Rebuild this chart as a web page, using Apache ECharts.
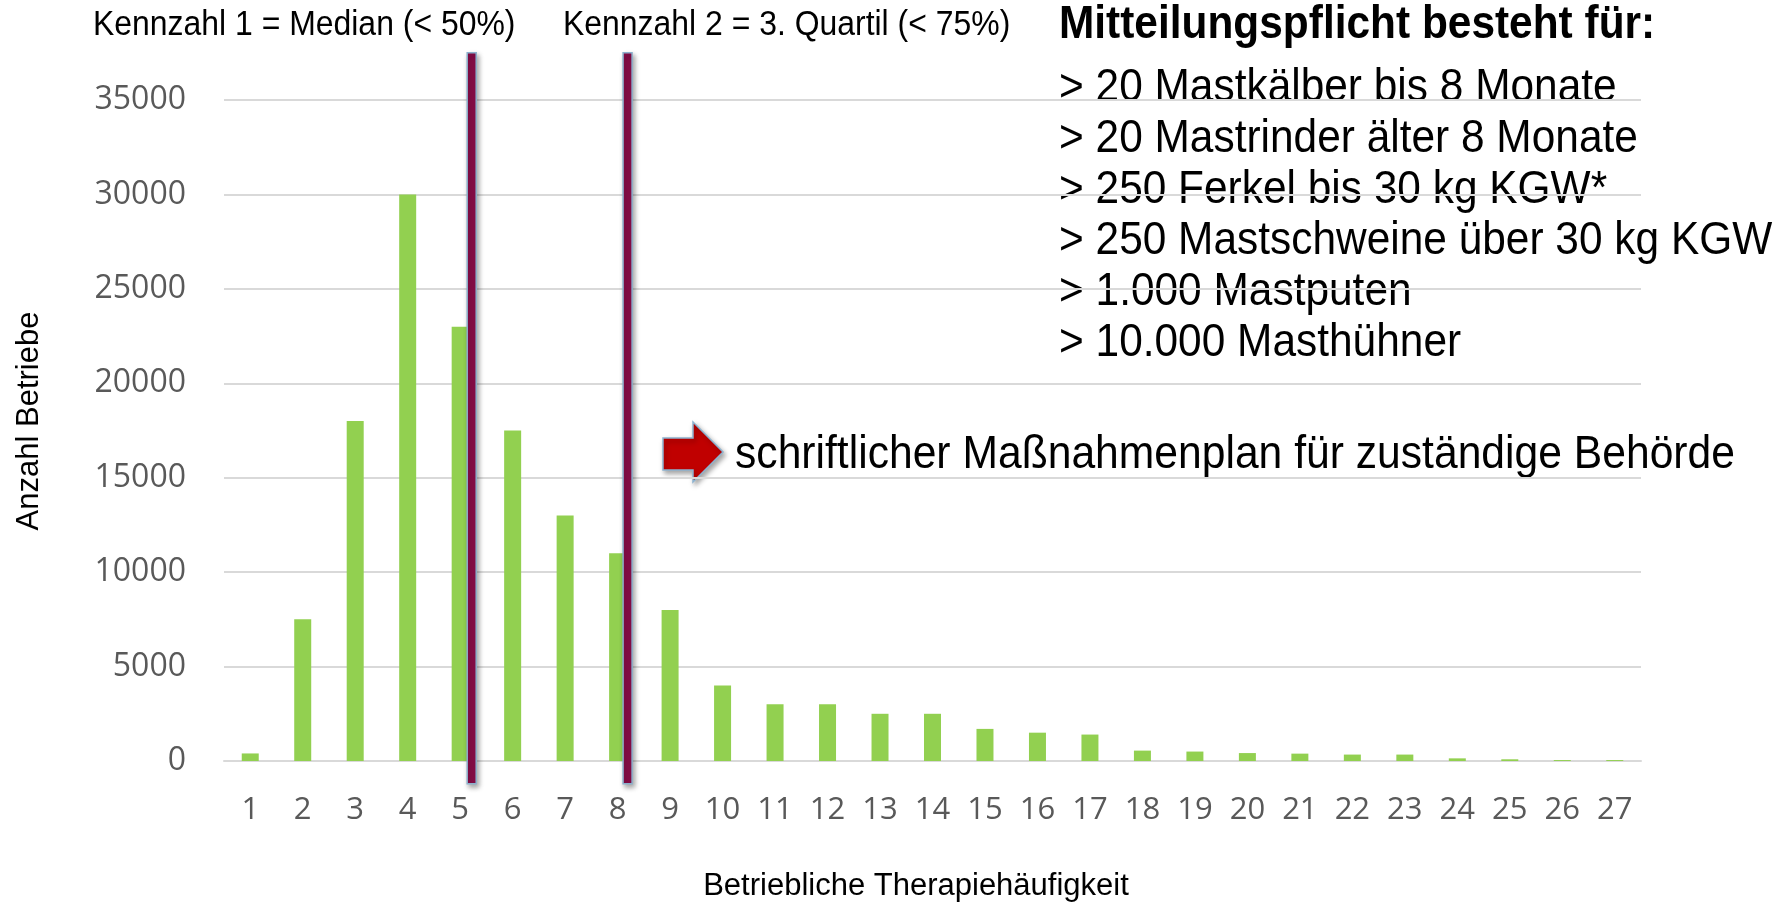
<!DOCTYPE html>
<html>
<head>
<meta charset="utf-8">
<script src="https://cdn.jsdelivr.net/npm/echarts@6/dist/echarts.min.js"></script>
<style>
  html, body { margin: 0; padding: 0; background: #fff; }
  #chart { width: 1783px; height: 903px; }
</style>
</head>
<body>
<div id="chart"></div>
<script>
// Therapiehäufigkeit 1..27
const categories = ['1', '2', '3', '4', '5', '6', '7', '8', '9', '10', '11', '12', '13', '14',
  '15', '16', '17', '18', '19', '20', '21', '22', '23', '24', '25', '26', '27'];
const betriebe = [400, 7500, 18000, 30000, 23000, 17500, 13000, 11000, 8000, 4000, 3000, 3000,
  2500, 2500, 1700, 1500, 1400, 550, 500, 420, 390, 340, 340, 140, 90, 50, 50];
const yTicks = [0, 5000, 10000, 15000, 20000, 25000, 30000, 35000];

// Kennzahl-Linien (Position auf der Kategorieachse) und ihre senkrechte Ausdehnung
const kennzahlPos = [5.22, 8.19];
const kennzahlSpan = [-1200, 37500];

const kennzahlLabels = ['Kennzahl 1 = Median (< 50%)', 'Kennzahl 2 = 3. Quartil (< 75%)'];
const pflichtTitle = 'Mitteilungspflicht besteht für:';
const pflichtList = [
  '> 20 Mastkälber bis 8 Monate',
  '> 20 Mastrinder älter 8 Monate',
  '> 250 Ferkel bis 30 kg KGW*',
  '> 250 Mastschweine über 30 kg KGW',
  '> 1.000 Mastputen',
  '> 10.000 Masthühner'
];
const planText = 'schriftlicher Maßnahmenplan für zuständige Behörde';

const chart = echarts.init(document.getElementById('chart'));

const textFont = '"Liberation Sans", Arial, sans-serif';

// Text links-mittig positioniert, leicht gestreckt wie in der Vorlage
function label(text, x, y, size, weight, scaleX) {
  return {
    type: 'text', x: x, y: y, scaleX: scaleX || 1, scaleY: 1.12,
    style: {
      text: text, fontFamily: textFont, fontSize: size, fontWeight: weight || 'normal',
      fill: '#000', verticalAlign: 'middle', align: 'left'
    }
  };
}

let graphics = [
  label(kennzahlLabels[0], 93, 25, 31, 'normal', 1.03),
  label(kennzahlLabels[1], 563, 25, 31, 'normal', 1.03),
  label(pflichtTitle, 1059, 25, 42, 'bold', 1.01),
  label(planText, 735, 455, 42, 'normal', 1.015),
  {
    type: 'text', x: 29, y: 421, rotation: Math.PI / 2,
    style: {
      text: 'Anzahl Betriebe', fontFamily: textFont, fontSize: 31, fill: '#000',
      align: 'center', verticalAlign: 'middle'
    }
  },
  {
    type: 'text', x: 916, y: 886,
    style: {
      text: 'Betriebliche Therapiehäufigkeit', fontFamily: textFont, fontSize: 31, fill: '#000',
      align: 'center', verticalAlign: 'middle'
    }
  },
  {
    type: 'polygon',
    shape: { points: [[663, 438], [693, 438], [693, 422], [723, 452], [693, 482], [693, 470], [663, 470]] },
    style: {
      fill: '#C00000', stroke: '#8DB3D0', lineWidth: 1.5,
      shadowBlur: 5, shadowOffsetX: 2, shadowOffsetY: 3, shadowColor: 'rgba(0,0,0,0.35)'
    }
  }
];
pflichtList.forEach(function (line, i) {
  graphics.push(label(line, 1059, 88 + i * 51, 42, 'normal', 1.01));
});

const option = {
  animation: false,
  backgroundColor: '#fff',
  grid: { left: 224, right: 142, top: 100, bottom: 142 },
  xAxis: [
    {
      type: 'category',
      data: categories,
      axisTick: { show: false },
      axisLine: { lineStyle: { color: '#D9D9D9', width: 2 } },
      axisLabel: { color: '#595959', fontSize: 31, fontFamily: '"Open Sans"', margin: 34 }
    },
    { type: 'value', min: 0.5, max: 27.5, show: false }
  ],
  yAxis: {
    type: 'value',
    min: yTicks[0],
    max: yTicks[yTicks.length - 1],
    interval: yTicks[1] - yTicks[0],
    axisLine: { show: false },
    axisTick: { show: false },
    axisLabel: {
      color: '#595959', fontSize: 32, fontFamily: '"Open Sans"', margin: 38,
      formatter: function (v) { return String(v); }
    },
    splitLine: { lineStyle: { color: '#D9D9D9', width: 2 } }
  },
  series: [
    {
      type: 'bar',
      data: betriebe,
      barWidth: 17,
      itemStyle: { color: '#92D050' }
    },
    {
      type: 'custom',
      xAxisIndex: 1,
      clip: false,
      z: 5,
      data: kennzahlPos.map(function (p) { return [p]; }),
      renderItem: function (params, api) {
        const x = api.value(0);
        const top = api.coord([x, kennzahlSpan[1]]);
        const bottom = api.coord([x, kennzahlSpan[0]]);
        return {
          type: 'rect',
          shape: { x: top[0] - 4.5, y: top[1], width: 9, height: bottom[1] - top[1] },
          style: {
            fill: '#870C47', stroke: '#8CB0CC', lineWidth: 1.5,
            shadowBlur: 5, shadowOffsetX: 2, shadowOffsetY: 3, shadowColor: 'rgba(0,0,0,0.35)'
          }
        };
      }
    }
  ],
  graphic: graphics
};

chart.setOption(option);
</script>
</body>
</html>
